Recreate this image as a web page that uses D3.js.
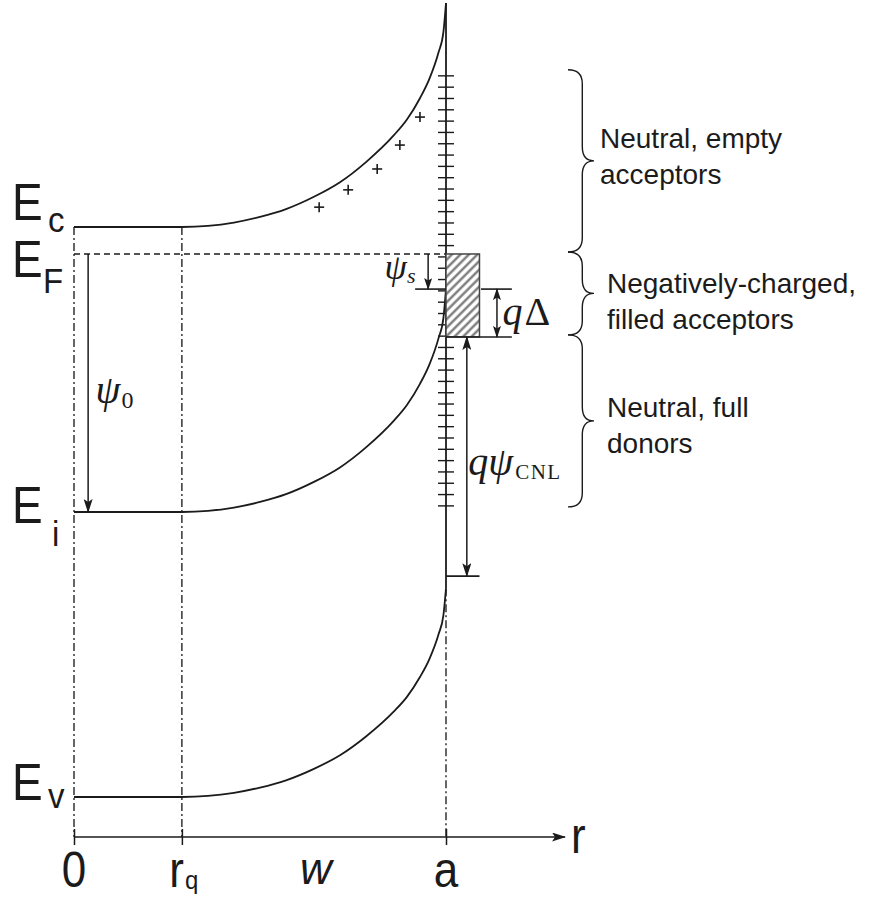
<!DOCTYPE html>
<html>
<head>
<meta charset="utf-8">
<script src="https://cdn.jsdelivr.net/npm/d3@7"></script>
<style>
  html, body { margin: 0; padding: 0; background: #fff; }
  svg { display: block; }
</style>
</head>
<body>
<svg id="chart" width="885" height="897"></svg>
<script>
// ---------- data (energies in eV, radial position in units of a) ----------
const levelSubs      = ["c", "F", "i", "v"];
const levelEnergies  = [1.12, 1.067, 0.56, 0.0];      // Ec, EF, Ei, Ev in the bulk
const bandBulk       = [1.12, 0.56, 0.0];             // Ec, Ei, Ev
const bandSurfaceBend = [0.44, 0.438, 0.41];          // upward bending at r = a
const rq = 0.29;                                      // end of the quasi-neutral core
// band-bending profile along the depletion region (r, fraction of surface bend)
const bendR    = [0.29, 0.36, 0.43, 0.50, 0.57, 0.645, 0.715, 0.785, 0.86, 0.895, 0.93, 0.955, 0.98, 0.993, 1.0];
const bendFrac = [0.00, 0.005, 0.02, 0.045, 0.08, 0.135, 0.20, 0.29, 0.41, 0.48, 0.575, 0.66, 0.78, 0.87, 1.0];
// ionised donors drawn under the conduction band
const plusR = [0.659, 0.737, 0.815, 0.876, 0.930];
const plusE = [1.159, 1.193, 1.234, 1.281, 1.336];
// surface states
const surfaceStateBand = [0.572, 1.417];
const surfaceStateCount = 39;
const eFilledBottom = 0.904;   // lower edge of the filled acceptor window
const eCNL = 0.434;            // charge neutrality level
const eSurfaceEi = 0.998;      // Ei at the surface
// axis
const rTicks = [0, rq, 1];
const rTickLabels = ["0", "r", "a"];
const rMax = 1.32;
// braces on the right
const braceTop    = [1.429, 1.071, 0.908];
const braceBottom = [1.071, 0.908, 0.570];
const braceLines  = [["Neutral, empty", "acceptors"],
                     ["Negatively-charged,", "filled acceptors"],
                     ["Neutral, full", "donors"]];

// ---------- scales ----------
const x = d3.scaleLinear().domain([0, 1]).range([74, 446]);
const y = d3.scaleLinear().domain([0, 1.12]).range([797, 227]);
const axisY = 837;
const EF = levelEnergies[1];

const svg = d3.select("#chart");
const ink = "#1b1b1b";
const sans = "'Liberation Sans', Arial, Helvetica, sans-serif";
const serif = "'Liberation Serif', 'Times New Roman', serif";

// ---------- defs: arrowheads and hatch ----------
const defs = svg.append("defs");
defs.append("marker")
  .attr("id", "head").attr("markerUnits", "userSpaceOnUse")
  .attr("viewBox", "0 0 14 9").attr("refX", 13).attr("refY", 4.5)
  .attr("markerWidth", 14).attr("markerHeight", 9)
  .attr("orient", "auto-start-reverse")
  .append("path").attr("d", "M0,0 L14,4.5 L0,9 L3,4.5 Z").attr("fill", ink);
defs.append("marker")
  .attr("id", "headSmall").attr("markerUnits", "userSpaceOnUse")
  .attr("viewBox", "0 0 12 8").attr("refX", 11).attr("refY", 4)
  .attr("markerWidth", 12).attr("markerHeight", 8)
  .attr("orient", "auto-start-reverse")
  .append("path").attr("d", "M0,0 L12,4 L0,8 L2.5,4 Z").attr("fill", ink);
const hatch = defs.append("pattern")
  .attr("id", "hatch").attr("patternUnits", "userSpaceOnUse")
  .attr("width", 6).attr("height", 6)
  .attr("patternTransform", "rotate(45)");
hatch.append("rect").attr("width", 6).attr("height", 6).attr("fill", "#fff");
hatch.append("line").attr("x1", 1.5).attr("y1", 0).attr("x2", 1.5).attr("y2", 6)
  .attr("stroke", "#707070").attr("stroke-width", 2.2);

const dashDot = "8,3,2,3";

// ---------- vertical guides ----------
[0, rq].forEach(r => {
  svg.append("line")
    .attr("x1", x(r)).attr("x2", x(r))
    .attr("y1", y(levelEnergies[0])).attr("y2", axisY)
    .attr("stroke", "#333").attr("stroke-width", 1.5)
    .attr("stroke-dasharray", dashDot);
});
const evSurface = bandBulk[2] + bandSurfaceBend[2];
svg.append("line")
  .attr("x1", x(1)).attr("x2", x(1))
  .attr("y1", y(evSurface)).attr("y2", axisY)
  .attr("stroke", "#333").attr("stroke-width", 1.5)
  .attr("stroke-dasharray", dashDot);

// ---------- surface (solid) ----------
svg.append("line")
  .attr("x1", x(1)).attr("x2", x(1))
  .attr("y1", y(bandBulk[0] + bandSurfaceBend[0])).attr("y2", y(evSurface))
  .attr("stroke", ink).attr("stroke-width", 1.8);

// surface-state ticks
const stateE = d3.range(surfaceStateCount).map(i =>
  surfaceStateBand[0] + i * (surfaceStateBand[1] - surfaceStateBand[0]) / (surfaceStateCount - 1));
svg.append("g").selectAll("line").data(stateE).join("line")
  .attr("x1", x(1) - 8).attr("x2", x(1) + 8)
  .attr("y1", d => y(d)).attr("y2", d => y(d))
  .attr("stroke", ink).attr("stroke-width", 1.4);

// ---------- Fermi level ----------
svg.append("line")
  .attr("x1", x(0)).attr("x2", x(1))
  .attr("y1", y(EF)).attr("y2", y(EF))
  .attr("stroke", ink).attr("stroke-width", 1.5)
  .attr("stroke-dasharray", "6,4");

// ---------- bands ----------
const bandLine = d3.line()
  .x(d => x(d[0])).y(d => y(d[1]))
  .curve(d3.curveMonotoneX);
bandBulk.forEach((e0, i) => {
  const pts = [[0, e0]].concat(bendR.map((r, k) => [r, e0 + bandSurfaceBend[i] * bendFrac[k]]));
  svg.append("path")
    .attr("d", bandLine(pts))
    .attr("fill", "none").attr("stroke", ink).attr("stroke-width", 1.8);
});

// ionised donors
const plus = svg.append("g").attr("stroke", ink).attr("stroke-width", 1.6);
plusR.forEach((r, i) => {
  const cx = x(r), cy = y(plusE[i]);
  plus.append("line").attr("x1", cx - 5).attr("x2", cx + 5).attr("y1", cy).attr("y2", cy);
  plus.append("line").attr("x1", cx).attr("x2", cx).attr("y1", cy - 5).attr("y2", cy + 5);
});

// ---------- filled acceptor window ----------
svg.append("rect")
  .attr("x", x(1)).attr("y", y(EF))
  .attr("width", x(1.09) - x(1)).attr("height", y(eFilledBottom) - y(EF))
  .attr("fill", "url(#hatch)").attr("stroke", "#444").attr("stroke-width", 1.5);

// ---------- dimension lines ----------
function hline(r1, r2, e, w) {
  svg.append("line").attr("x1", x(r1)).attr("x2", x(r2))
    .attr("y1", y(e)).attr("y2", y(e))
    .attr("stroke", ink).attr("stroke-width", w || 1.6);
}
function varrow(r, e1, e2, both, marker) {
  const m = marker || "head";
  const l = svg.append("line").attr("x1", x(r)).attr("x2", x(r))
    .attr("y1", y(e1)).attr("y2", y(e2))
    .attr("stroke", ink).attr("stroke-width", 1.5)
    .attr("marker-end", `url(#${m})`);
  if (both) l.attr("marker-start", `url(#${m})`);
}
// psi_0
varrow(0.038, EF, levelEnergies[2], false);
// psi_s
hline(0.917, 1, eSurfaceEi);
varrow(0.952, EF, eSurfaceEi, false, "headSmall");
// q Delta
hline(1.094, 1.177, eSurfaceEi);
hline(1.0, 1.177, eFilledBottom);
varrow(1.137, eSurfaceEi, eFilledBottom, true, "headSmall");
// q psi_CNL
hline(1.0, 1.09, eCNL);
varrow(1.056, eFilledBottom, eCNL, true);

// ---------- r axis ----------
const xAxisScale = d3.scaleLinear().domain([0, rMax]).range([x(0), x(rMax)]);
const axisG = svg.append("g").attr("transform", `translate(0,${axisY})`)
  .call(d3.axisBottom(xAxisScale).tickValues(rTicks).tickFormat("").tickSizeOuter(0).tickSize(8));
axisG.select(".domain").attr("stroke", ink).attr("stroke-width", 1.6)
  .attr("d", `M${x(0)},0H${x(rMax)}`).attr("marker-end", "url(#head)");
axisG.selectAll(".tick line").attr("y1", -8).attr("y2", 8)
  .attr("stroke", ink).attr("stroke-width", 1.5);

// ---------- text helpers ----------
function stretched(px, py, str, size, sy, opts) {
  opts = opts || {};
  return svg.append("text")
    .attr("transform", `translate(${px},${py}) scale(1,${sy})`)
    .attr("font-family", opts.family || sans)
    .attr("font-size", size)
    .attr("font-style", opts.italic ? "italic" : "normal")
    .attr("text-anchor", opts.anchor || "start")
    .attr("fill", ink)
    .text(str);
}

// axis labels
const axisLabelBase = 887;
rTicks.forEach((r, i) => {
  const lbl = rTickLabels[i];
  if (lbl === "r") {
    stretched(x(r) + 2, axisLabelBase, "r", 44, 1.12, { anchor: "end" });
    stretched(x(r) + 3, axisLabelBase + 2, "q", 24, 1.1);
  } else {
    stretched(x(r), axisLabelBase, lbl, 44, 1.12, { anchor: "middle" });
  }
});
stretched(x(0.65), axisLabelBase - 3, "w", 44, 1.0, { anchor: "middle", italic: true });
stretched(x(rMax) + 6, 853, "r", 44, 1.12);

// energy level labels (E with subscript)
const labelBase = [-7, 23, 11, 3];
const subDx   = [48, 43, 52, 48];
const subBase = [5, 39, 34, 11];
levelEnergies.forEach((e, i) => {
  stretched(12, y(e) + labelBase[i], "E", 46, 1.14);
  stretched(subDx[i], y(e) + subBase[i], levelSubs[i], 33, 1.05);
});

// ---------- math labels ----------
function mathLabel(px, py, parts) {
  const t = svg.append("text").attr("x", px).attr("y", py)
    .attr("font-family", serif).attr("fill", ink);
  parts.forEach(p => {
    const s = t.append("tspan")
      .attr("font-size", p.size)
      .attr("font-style", p.italic ? "italic" : "normal")
      .attr("dy", p.dy || 0)
      .attr("dx", p.dx || 0)
      .text(p.t);
    if (p.ls) s.attr("letter-spacing", p.ls);
  });
}
mathLabel(x(0.058), y(0.775), [
  { t: "ψ", size: 40, italic: true },
  { t: "0", size: 24, dy: 5, dx: 1 }
]);
mathLabel(x(0.835), y(1.018), [
  { t: "ψ", size: 36, italic: true },
  { t: "s", size: 22, italic: true, dy: 4 }
]);
mathLabel(x(1.152), y(0.928), [
  { t: "q", size: 40, italic: true },
  { t: "Δ", size: 40, dx: 2 }
]);
mathLabel(x(1.060), y(0.633), [
  { t: "q", size: 40, italic: true },
  { t: "ψ", size: 40, italic: true },
  { t: "CNL", size: 21, dy: 4, dx: 2, ls: 1.5 }
]);

// ---------- braces and descriptions ----------
const braceX = 568, braceW = 26;
function bracePath(y1, y2) {
  const h = braceW * 0.55, m = (y1 + y2) / 2, q = Math.min(14, (y2 - y1) / 5);
  return `M${braceX},${y1} Q${braceX + h},${y1} ${braceX + h},${y1 + q}` +
         ` L${braceX + h},${m - q} Q${braceX + h},${m} ${braceX + braceW},${m}` +
         ` Q${braceX + h},${m} ${braceX + h},${m + q}` +
         ` L${braceX + h},${y2 - q} Q${braceX + h},${y2} ${braceX},${y2}`;
}
const textDy = [-13, 0, -4];
const textX  = [600, 607, 607];
braceTop.forEach((top, i) => {
  const y1 = y(top), y2 = y(braceBottom[i]);
  svg.append("path").attr("d", bracePath(y1, y2))
    .attr("fill", "none").attr("stroke", ink).attr("stroke-width", 1.4);
  const mid = (y1 + y2) / 2;
  braceLines[i].forEach((s, k) => {
    svg.append("text")
      .attr("x", textX[i]).attr("y", mid + textDy[i] + k * 36)
      .attr("font-family", sans).attr("font-size", 28)
      .attr("fill", ink).text(s);
  });
});
</script>
</body>
</html>
